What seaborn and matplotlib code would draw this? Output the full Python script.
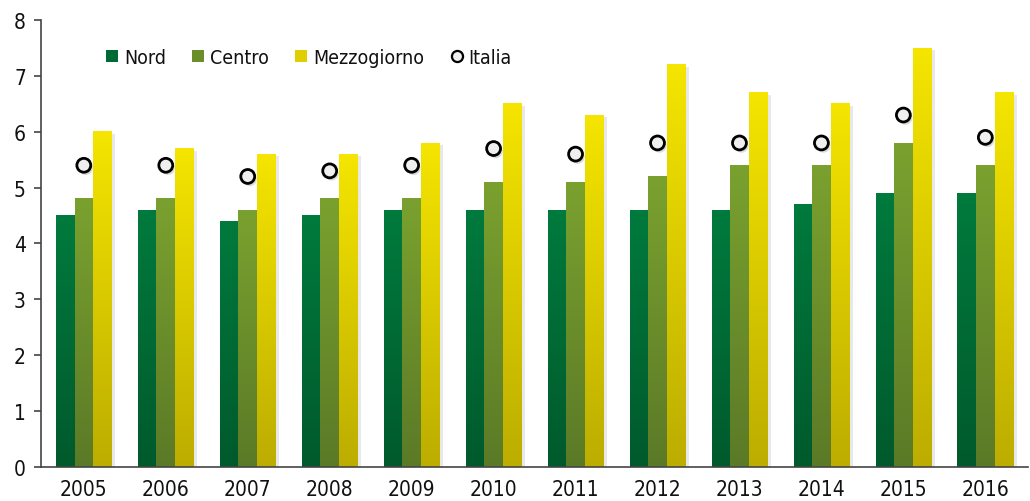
import numpy as np
import pandas as pd
import matplotlib
matplotlib.use('Agg')
import matplotlib.pyplot as plt
import matplotlib.patheffects as pe
from matplotlib.patches import Patch
from matplotlib.lines import Line2D
from matplotlib.colors import to_rgb
import seaborn as sns

years = ['2005', '2006', '2007', '2008', '2009', '2010',
         '2011', '2012', '2013', '2014', '2015', '2016']
nord = [4.5, 4.6, 4.4, 4.5, 4.6, 4.6, 4.6, 4.6, 4.6, 4.7, 4.9, 4.9]
centro = [4.8, 4.8, 4.6, 4.8, 4.8, 5.1, 5.1, 5.2, 5.4, 5.4, 5.8, 5.4]
mezzogiorno = [6.0, 5.7, 5.6, 5.6, 5.8, 6.5, 6.3, 7.2, 6.7, 6.5, 7.5, 6.7]
italia = [5.4, 5.4, 5.2, 5.3, 5.4, 5.7, 5.6, 5.8, 5.8, 5.8, 6.3, 5.9]

areas = ['Nord', 'Centro', 'Mezzogiorno']
top_colors = ['#007a3d', '#7aa12f', '#f5e500']
bottom_colors = ['#005a2c', '#5b7a27', '#bcad00']

sns.set_style('white')
plt.rcParams['font.family'] = ['DejaVu Sans']
plt.rcParams['font.stretch'] = 'condensed'

df = pd.DataFrame({
    'anno': years * 3,
    'valore': nord + centro + mezzogiorno,
    'area': ['Nord'] * 12 + ['Centro'] * 12 + ['Mezzogiorno'] * 12,
})
df_it = pd.DataFrame({'anno': years, 'valore': italia})

fig = plt.figure(figsize=(10.3, 5.02), dpi=100)
ax = fig.add_axes([0.040, 0.068, 0.958, 0.890])

sns.barplot(data=df, x='anno', y='valore', hue='area', hue_order=areas,
            palette=top_colors, width=0.68, ax=ax, legend=False,
            saturation=1, linewidth=0)

# vertical gradient on each bar + soft shadow
for i, cont in enumerate(ax.containers):
    c1 = np.array(to_rgb(top_colors[i]))
    c0 = np.array(to_rgb(bottom_colors[i]))
    t = np.linspace(1, 0, 100)[:, None]
    grad = (c1 * t + c0 * (1 - t))[:, None, :]
    for p in cont.patches:
        x, w, h = p.get_x(), p.get_width(), p.get_height()
        p.set_path_effects([pe.SimplePatchShadow(offset=(2.5, -1.5), shadow_rgbFace='#999999', alpha=0.22),
                            pe.Normal()])
        ax.imshow(grad, extent=[x, x + w, 0, h], aspect='auto', zorder=p.get_zorder() + 0.1,
                  interpolation='bilinear')

sns.stripplot(data=df_it, x='anno', y='valore', jitter=False, ax=ax,
              color='#efefef', edgecolor='black', linewidth=2, size=10, zorder=5,
              path_effects=[pe.SimplePatchShadow(offset=(1.5, -2), shadow_rgbFace='#888888', alpha=0.3),
                            pe.Normal()])

ax.set_xlim(-0.52, 11.52)
ax.set_ylim(0, 8)
ax.set_yticks(range(0, 9))
ax.set_xlabel('')
ax.set_ylabel('')
sns.despine(ax=ax)
for s in ['left', 'bottom']:
    ax.spines[s].set_color('#444444')
    ax.spines[s].set_linewidth(1.2)
ax.tick_params(axis='y', which='both', left=True, length=5, width=1.2, color='#444444',
               labelsize=15, pad=6, labelcolor='#111111')
ax.tick_params(axis='x', bottom=False, labelsize=15, pad=5, labelcolor='#111111')

handles = [Patch(facecolor=c, edgecolor='none') for c in ['#006a34', '#6b8e2b', '#e0cf00']]
handles.append(Line2D([0], [0], marker='o', linestyle='none', markerfacecolor='#efefef',
                      markeredgecolor='black', markeredgewidth=1.6, markersize=8))
ax.legend(handles, areas + ['Italia'], ncol=4, frameon=False, loc='upper left',
          bbox_to_anchor=(0.058, 0.955), borderaxespad=0, fontsize=14, handlelength=0.62,
          handleheight=0.62, handletextpad=0.3, columnspacing=1.35, labelcolor='#111111')

fig.savefig('out.png', dpi=100)
